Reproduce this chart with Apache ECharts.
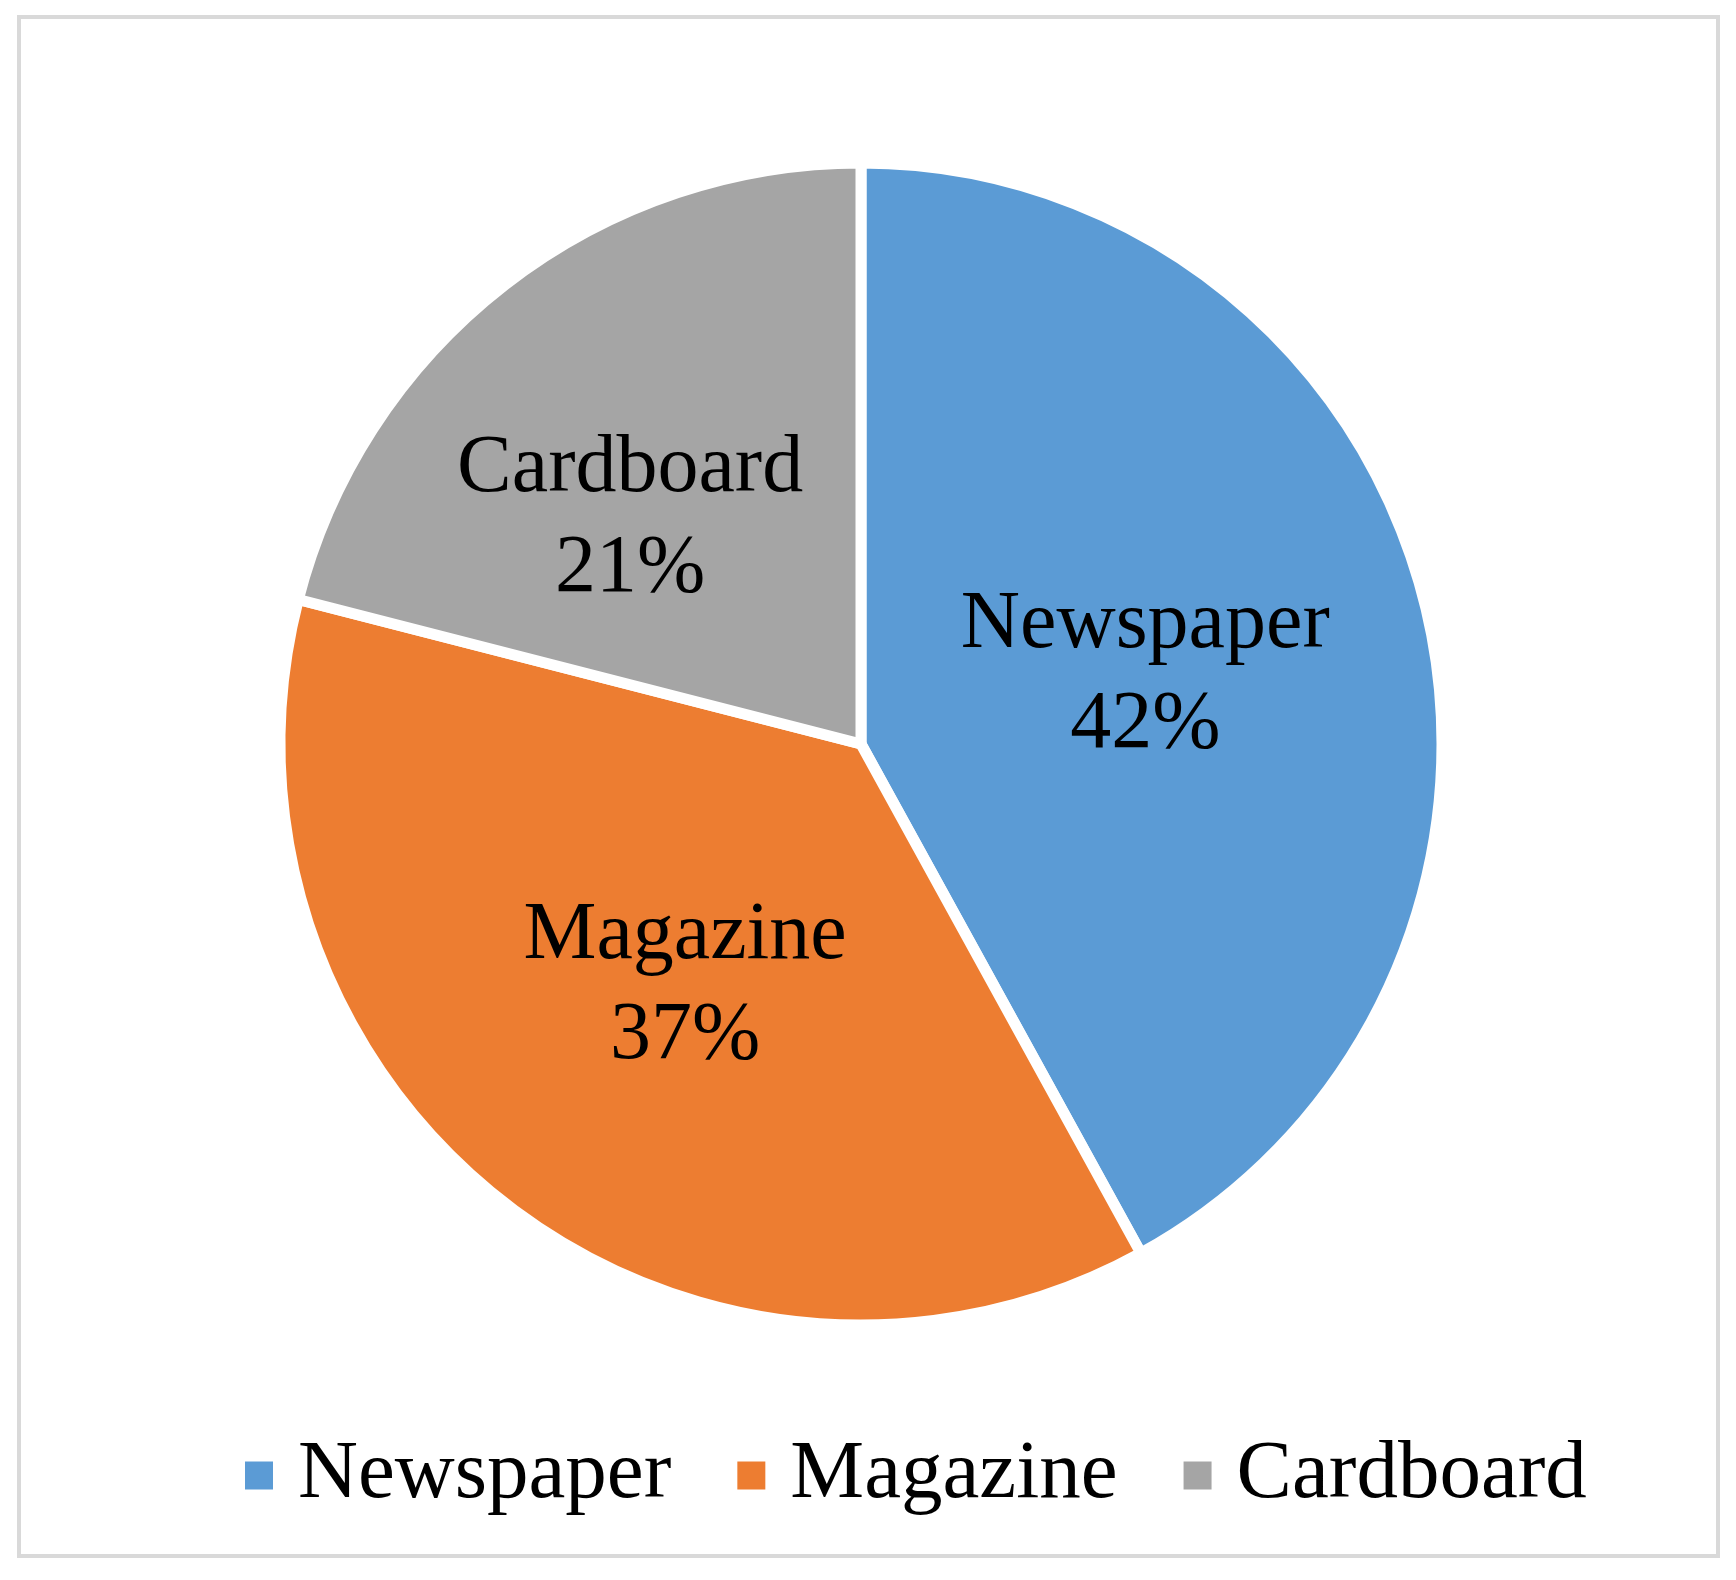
<!DOCTYPE html>
<html>
<head>
<meta charset="utf-8">
<script src="https://cdn.jsdelivr.net/npm/echarts@6/dist/echarts.min.js"></script>
<style>
  html, body { margin: 0; padding: 0; background: #fff; }
  #main { width: 1736px; height: 1580px; }
</style>
</head>
<body>
<div id="main"></div>
<script>
// paper types and their share (%)
const categories = ['Newspaper', 'Magazine', 'Cardboard'];
const shares = [42, 37, 21];
const colors = ['#5B9BD5', '#ED7D31', '#A5A5A5'];

// nudge labels a bit like the original (Excel best fit)
const labelNudge = [[0, 4], [4, 11], [-51, 7]];

const font = "'Liberation Serif', 'Times New Roman', serif";

const chart = echarts.init(document.getElementById('main'));

const option = {
  backgroundColor: '#fff',
  animation: false,
  color: colors,
  graphic: [{
    type: 'rect',
    shape: { x: 19, y: 17, width: 1699, height: 1539 },
    style: { fill: 'none', stroke: '#d9d9d9', lineWidth: 4 },
    silent: true
  }],
  legend: {
    data: categories,
    left: 243,
    top: 1434,
    padding: 0,
    icon: 'rect',
    itemWidth: 30,
    itemHeight: 30,
    itemGap: 64,
    textStyle: {
      fontFamily: font,
      fontSize: 83,
      lineHeight: 80,
      color: '#000',
      padding: [0, 0, 0, 19]
    }
  },
  series: [{
    type: 'pie',
    center: [861, 744],
    radius: 581,
    startAngle: 90,
    clockwise: true,
    itemStyle: {
      borderColor: '#fff',
      borderWidth: 11
    },
    label: {
      show: true,
      position: 'inside',
      formatter: '{b}\n{d}%',
      fontFamily: font,
      fontSize: 82,
      lineHeight: 100,
      color: '#000'
    },
    labelLine: { show: false },
    labelLayout: function (params) {
      const n = labelNudge[params.dataIndex];
      return { dx: n[0], dy: n[1] };
    },
    emphasis: { disabled: true },
    data: categories.map((name, i) => ({ name: name, value: shares[i] }))
  }]
};

chart.setOption(option);
</script>
</body>
</html>
